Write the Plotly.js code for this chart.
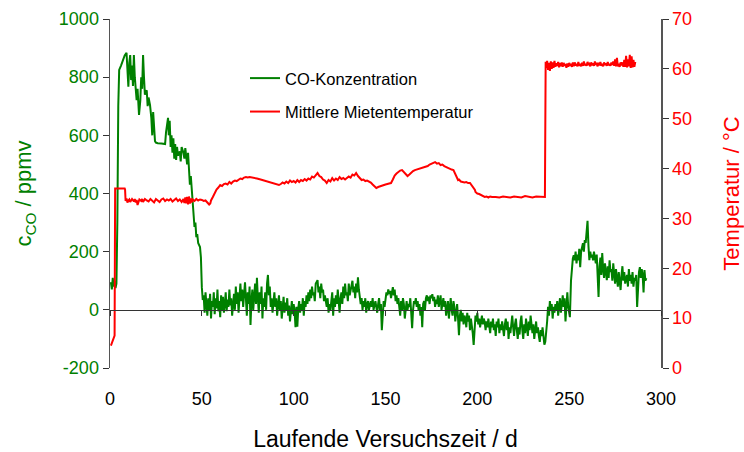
<!DOCTYPE html>
<html>
<head>
<meta charset="utf-8">
<script src="https://cdn.plot.ly/plotly-3.0.1.min.js"></script>
<style>html,body{margin:0;padding:0;background:#fff;}#chart{width:744px;height:452px;}</style>
</head>
<body>
<div id="chart"></div>
<script>
// CO concentration (ppmv) vs. test time (d)
const coDays = [0.5,1,1.5,2,2.5,3,3.5,4,4.5,5,6,7,8,9,9.5,10,10.5,11,11.5,12,12.5,13,13.5,14,14.5,15,15.8,16.5,17,17.5,18,18.5,19,20,20.5,21,21.8,22.5,23,23.5,24,24.5,25,26,28,30,30.5,31,31.6,32,32.5,33,33.5,34,34.5,35,35.5,36,36.5,37,38,38.5,39,40,40.5,41,41.5,42,42.5,43,43.5,44,45,45.5,46,46.5,47,47.5,48,49,49.5,50,50.5,51,51.5,52,52.5,53,53.5,54,54.5,55,55.5,56,56.5,57,57.5,58,58.5,59,59.5,60,60.5,61,61.5,62,62.5,63,63.5,64,64.5,65,65.5,66,66.5,67,67.5,68,68.5,69,69.5,70,70.5,71,71.5,72,72.5,73,73.5,74,74.5,75,75.5,76,76.5,77,77.5,78,78.5,79,79.5,80,80.5,81,81.5,82,82.5,83,83.5,84,84.5,85,85.5,86,86.5,87,87.5,88,88.5,89,89.5,90,90.5,91,91.5,92,92.5,93,93.5,94,94.5,95,95.5,96,96.5,97,97.5,98,98.5,99,99.5,100,100.5,101,101.5,102,102.5,103,103.5,104,104.5,105,105.5,106,106.5,107,107.5,108,108.5,109,109.5,110,110.5,111,111.5,112,113,113.5,114,114.5,115,115.5,116,116.5,117,117.5,118,118.5,119,119.5,120,120.5,121,121.5,122,122.5,123,123.5,124,124.5,125,125.5,126,126.5,127,127.5,128,128.5,129,129.5,130,130.5,131,132,132.5,133,133.5,134,134.5,135,135.5,136,136.5,137,137.5,138,138.5,139,139.5,140,140.5,141,141.5,142,142.5,143,143.5,144,144.5,145,145.5,146,146.5,147,147.5,148,148.5,149,149.5,150,150.5,151,151.5,152,152.5,153,153.5,154,154.5,155,155.5,156,156.5,157,157.5,158,158.5,159,159.5,160,160.5,161,161.5,162,162.5,163,163.5,164,164.5,165,165.5,166,166.5,167,167.5,168,168.5,169,169.5,170,170.5,171,171.5,172,172.5,173,173.5,174,174.5,175,175.5,176,176.5,177,177.5,178,178.5,179,179.5,180,180.5,181,181.5,182,182.5,183,183.5,184,184.5,185,185.5,186,186.5,187,187.5,188,188.5,189,189.5,190,190.5,191,191.5,192,192.5,193,193.5,194,194.5,195,195.5,196,196.5,197,197.5,198,198.5,199,199.5,200,200.5,201,201.5,202,202.5,203,203.5,204,204.5,205,205.5,206,206.5,207,207.5,208,208.5,209,209.5,210,210.5,211,211.5,212,212.5,213,213.5,214,214.5,215,215.5,216,216.5,217,217.5,218,218.5,219,219.5,220,220.5,221,221.5,222,222.5,223,223.5,224,224.5,225,225.5,226,226.5,227,227.5,228,228.5,229,229.5,230,230.5,231,231.5,232,232.5,233,233.5,234,234.5,235,235.5,236,236.5,237,237.5,238,238.5,239,239.5,240,240.5,241,241.5,242,242.5,243,243.5,244,244.5,245,245.5,246,246.5,247,247.5,248,248.5,249,249.5,250,250.4,251,251.5,252,252.5,253,253.5,254,254.5,255,255.5,256,256.5,257,257.5,258,258.5,259,259.5,260,260.5,261,261.5,262,262.5,263,263.5,264,264.5,265,265.5,266,266.5,267,267.5,268,268.5,269,269.5,270,270.5,271,271.5,272,272.5,273,273.5,274,274.5,275,275.5,276,276.5,277,277.5,278,278.5,279,279.5,280,280.5,281,281.5,282,282.5,283,283.5,284,284.5,285,285.5,286,286.5,287,287.5,288,288.5,289,289.5,290,290.5,291,291.5,292];
const coPpm = [95,70,110,80,100,75,90,300,700,825,840,860,875,884,830,767,850,876,790,840,770,876,800,750,721,760,670,720,800,760,876,800,740,755,700,730,704,660,600,680,620,580,575,573,572,570,610,640,660,600,650,560,600,540,590,520,570,515,560,530,545,510,560,540,520,556,530,500,540,470,430,460,380,350,285,300,250,260,230,216,180,78,34,50,-10,60,20,-20,40,0,55,-30,30,10,60,-15,40,5,70,-5,30,-25,50,0,45,-10,20,60,-5,35,10,70,15,40,-20,30,55,0,80,20,60,-10,45,90,30,70,10,50,95,40,-20,60,20,80,-52,30,70,0,50,90,20,110,40,-10,60,20,80,-30,40,10,60,0,90,120,50,80,10,40,-10,30,60,10,40,-20,20,50,0,30,-30,20,45,-10,25,0,40,-20,15,-40,10,30,-15,20,-5,-60,10,-58,5,30,-10,20,0,40,-20,30,10,50,20,60,30,70,40,80,50,60,30,90,102,60,80,40,90,60,70,30,50,20,10,40,-10,20,0,30,60,-20,40,10,50,20,70,30,-10,40,60,20,80,40,90,50,60,30,90,50,70,100,60,80,40,90,60,112,70,50,20,40,0,30,10,40,-10,20,30,0,20,30,10,40,0,20,30,10,-10,20,40,0,20,-70,-10,30,10,40,60,50,70,55,65,40,60,78,50,70,30,50,20,40,10,-20,30,0,40,20,-30,10,30,0,20,10,40,-10,-63,0,30,20,40,10,30,0,20,-20,10,-60,20,30,0,40,50,30,45,20,50,40,54,30,45,10,35,20,50,10,30,50,0,20,40,10,30,-20,10,30,-30,20,40,0,-20,30,10,-40,0,20,-30,-87,-20,0,-40,-10,-50,-20,-30,-60,-10,-40,-20,-70,-30,-50,-80,-121,-60,-20,-40,-10,-50,-30,-60,-40,-20,-50,-30,-42,-70,-40,-60,-30,-50,-80,-40,-60,-30,-70,-50,-90,-40,-60,-30,-80,-50,-70,-40,-60,-90,-50,-30,-70,-40,-100,-60,-80,-40,-20,-60,-90,-50,-30,-70,-100,-60,-85,-40,-20,-70,-100,-50,-80,-30,-60,-90,-40,-70,-20,-60,-80,-50,-100,-70,-40,-80,-60,-90,-110,-70,-90,-60,-100,-120,-110,-80,-40,10,-20,30,0,20,-30,10,-10,20,0,30,-20,10,40,-10,20,50,10,40,-40,30,60,10,-20,-25,100,150,177,188,170,200,160,190,170,210,147,200,220,229,200,240,230,260,306,220,171,200,180,190,170,200,180,160,190,120,44,150,180,120,195,140,110,160,120,102,150,110,170,130,140,100,160,110,90,140,100,80,130,90,68,120,150,100,130,90,109,120,80,140,100,120,90,130,80,110,100,120,10,100,130,147,110,140,120,60,137,100,109];

// Mean rent temperature (°C) vs. test time (d)
const tempDays = [0.5,1,1.5,2,2.5,2.8,4,6,8,8.2,8.5,9,9.5,10,10.5,11,12,13,13.5,14,14.5,15,15.5,16,17,17.5,18,19,20,21,22,23,24,25,26,27,28,29,30,31,32,33,34,35,36,37,38,39,40,40.5,41,41.5,42,42.5,43,43.5,44,44.5,45,46,47,48,49,50,51,52,53,54,54.6,55,56,57,58,59,60,61,62,63,64,65,66,67,68,69,70,71,72,73,74,75,76,78,80,82,84,86,88,90,92,93,94,95,96,97,98,99,100,101,102,103,104,105,106,107,108,109,110,111,112,113,114,115,116,117,118,119,120,121,122,123,124,125,126,127,128,129,130,131,132,133,134,135,136,137,138,139,140,141,142,143,144,145,146,148,150,152,153,154,155,156,157,158,159,160,161,162,163,164,165,166,168,170,172,173,174,175,176,177,178,179,180,181,182,183,184,185,186,187,188,189,189.5,190,191,192,193,194,195,196,197,198,198.7,199,200,201,202,203,204,205,206,207,208,210,212,214,216,218,220,222,224,226,228,230,232,234,236,236.8,237.2,237.6,238,238.5,239,239.5,240,240.5,241,241.5,242,242.5,243,243.5,244,244.5,245,245.5,246,246.5,247,247.5,248,248.5,249,249.5,250,250.5,251,251.5,252,252.5,253,253.5,254,254.5,255,255.5,256,256.5,257,257.5,258,258.5,259,259.5,260,260.5,261,261.5,262,262.5,263,263.5,264,264.5,265,265.5,266,266.5,267,267.5,268,268.5,269,269.5,270,270.5,271,271.5,272,272.5,273,273.5,274,274.5,275,275.5,276,276.5,277,277.5,278,278.5,279,279.5,280,280.5,281,281.5,282,282.5,283,283.5,284,284.5,285,285.5,286,286.5,287,287.5,288,288.5,289,289.5,290];
const tempC = [4.5,5,5.5,6,6.5,36,36,36,36,35.8,33.5,34,33.2,33.6,33.8,33.3,33.9,33.4,33.9,33.2,33.7,32.7,33.6,33.8,33.5,33.9,33.3,33.9,33.6,33.4,33.9,33.5,33.2,33.9,33.6,33.3,33.8,34.0,33.5,33.8,33.6,33.9,33.4,33.7,34.0,33.5,33.8,33.3,33.9,33.1,34.2,33.0,34.3,32.8,34.4,33.0,34.0,33.2,33.8,33.5,33.9,33.6,33.8,33.7,33.5,33.6,33.2,32.8,33.0,33.6,34.3,35.2,35.8,36.2,36.7,36.5,36.9,37.0,36.8,37.3,37.0,37.4,37.6,37.5,37.8,38.0,37.9,38.2,38.3,38.2,38.3,38.2,38.0,37.8,37.6,37.4,37.2,37.0,36.7,36.9,37.2,37.0,37.4,37.1,37.6,37.3,37.5,37.2,37.7,37.3,37.7,37.5,37.9,37.6,38.0,37.8,38.4,38.2,38.7,39.1,38.5,38.3,37.8,37.6,37.1,37.7,37.4,38.1,37.6,38.0,37.7,38.3,37.9,38.1,37.8,38.1,38.4,38.2,38.8,38.6,39.1,38.5,38.0,37.7,37.8,37.5,37.6,37.4,37.2,36.8,36.4,36.1,36.3,36.6,36.8,37.0,37.1,37.8,38.6,39.0,39.3,39.6,39.7,39.3,38.8,38.5,38.8,39.2,39.5,39.7,39.9,40.1,40.3,40.5,40.8,41.0,41.2,41.3,41.0,41.1,40.7,40.8,40.5,40.3,40.2,40.0,39.8,39.7,39.0,38.2,37.7,37.8,37.4,37.3,37.2,37.3,37.1,37.1,36.6,36.0,35.7,35.3,35.0,34.9,34.7,34.6,34.3,34.4,34.2,34.4,34.3,34.3,34.2,34.4,34.3,34.2,34.4,34.3,34.2,34.5,34.3,34.2,34.4,34.3,34.2,34.3,61.4,60.2,61.6,59.8,61.2,59.6,61.5,60.0,61.3,60.2,61.6,60.4,61.1,60.6,61.4,60.3,61.2,60.5,61.3,60.4,61.2,60.6,61.0,60.2,61.1,60.4,61.2,60.6,61.0,60.4,61.3,60.5,61.3,60.7,61.0,60.5,61.4,60.6,61.0,60.5,61.2,60.6,61.5,60.7,61.0,60.6,61.4,60.8,61.0,60.5,61.3,60.7,61.1,60.6,61.5,60.8,61.0,60.5,61.2,60.7,61.4,60.6,61.0,60.5,61.3,60.8,61.1,60.6,61.4,60.7,61.0,60.6,61.3,60.8,61.5,60.6,61.9,60.5,62.2,60.5,61.0,60.4,61.3,60.7,61.3,60.4,61.8,60.4,62.6,60.3,61.9,60.5,62.8,60.2,62.5,60.3,61.8,60.4,61.4];

const xTicks = [0,50,100,150,200,250,300];
const coTicks = [-200,0,200,400,600,800,1000];
const tempTicks = [0,10,20,30,40,50,60,70];

const GREEN = '#008000';
const RED = '#ff0000';
const FONT = 'Liberation Sans, Arial, Helvetica, sans-serif';

const traces = [
  {x: coDays, y: coPpm, type: 'scatter', mode: 'lines', name: 'CO-Konzentration',
   line: {color: GREEN, width: 2}, xaxis: 'x', yaxis: 'y', legendgroup: 'a'},
  {x: tempDays, y: tempC, type: 'scatter', mode: 'lines', name: 'Mittlere Mietentemperatur',
   line: {color: RED, width: 2}, xaxis: 'x2', yaxis: 'y2', legendgroup: 'b'}
];

const layout = {
  width: 744, height: 452,
  margin: {l: 110, r: 83, t: 19, b: 84},
  paper_bgcolor: '#fff', plot_bgcolor: '#fff',
  font: {family: FONT, size: 18, color: '#000'},
  showlegend: true,
  legend: {x: 0.245, y: 0.88, xanchor: 'left', yanchor: 'top', bgcolor: 'rgba(0,0,0,0)',
           font: {size: 16.5, color: '#000'}, tracegroupgap: 9, traceorder: 'grouped'},
  xaxis: {range: [0, 300], tickvals: xTicks, ticktext: xTicks.map(String),
          showline: false, showgrid: false, zeroline: false,
          ticks: 'outside', ticklen: 14, tickcolor: 'rgba(0,0,0,0)',
          tickfont: {size: 18, color: '#000'},
          title: {text: 'Laufende Versuchszeit / d', font: {size: 23, color: '#000'}, standoff: 23}},
  xaxis2: {range: [0, 300], overlaying: 'x', anchor: 'free', position: 200/1200, side: 'bottom',
           tickvals: xTicks, showticklabels: false, showline: true, linecolor: '#333', linewidth: 1,
           ticks: 'outside', ticklen: 5, tickcolor: '#333', showgrid: false, zeroline: false},
  yaxis: {range: [-200, 1000], tickvals: coTicks, ticktext: coTicks.map(String),
          showline: true, linecolor: '#555', linewidth: 1.5, ticks: 'outside', ticklen: 6, tickcolor: '#333',
          showgrid: false, zeroline: false, tickfont: {size: 18, color: GREEN},
          title: {text: 'c<sub>CO</sub> / ppmv', font: {size: 22, color: GREEN}, standoff: 21}},
  yaxis2: {range: [0, 70], overlaying: 'y', side: 'right', anchor: 'x', tickvals: tempTicks,
           ticktext: tempTicks.map(String),
           showline: true, linecolor: '#555', linewidth: 1.5, ticks: 'outside', ticklen: 6, tickcolor: '#333',
           showgrid: false, zeroline: false, tickfont: {size: 18, color: RED},
           title: {text: 'Temperatur / °C', font: {size: 22, color: RED}, standoff: 40}}
};

Plotly.newPlot('chart', traces, layout, {displayModeBar: false, staticPlot: true});
</script>
</body>
</html>
